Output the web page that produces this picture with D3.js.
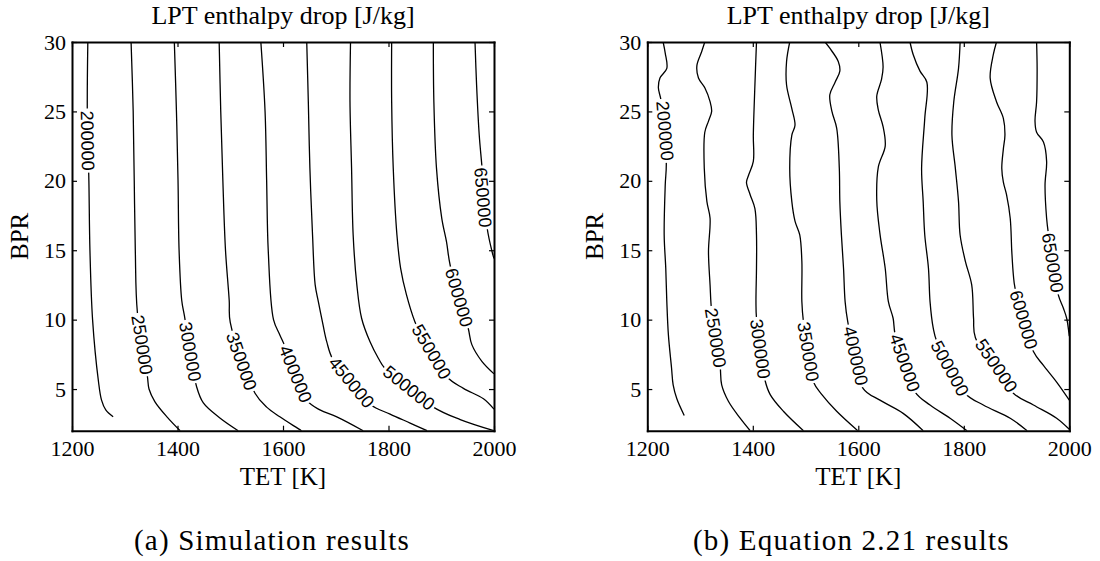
<!DOCTYPE html>
<html>
<head>
<meta charset="utf-8">
<script src="https://cdn.jsdelivr.net/npm/d3@7"></script>
<style>
  body { margin: 0; background: #fff; }
  svg { display: block; }
</style>
</head>
<body>
<svg id="chart" width="1100" height="561"></svg>
<script>
const levels = [200000, 250000, 300000, 350000, 400000, 450000, 500000, 550000, 600000, 650000];
const xTicks = [1200, 1400, 1600, 1800, 2000];
const yTicks = [5, 10, 15, 20, 25, 30];

// (a) simulation contours, points are [TET, BPR]
const sim200 = [[1230,30],[1229,25],[1232,20],[1234,15],[1239,10],[1250,5.6],[1256,4.2],[1264,3.5],[1278,3.0]];
const sim250 = [[1312,30],[1316,25],[1318,20],[1320,15],[1324,10.5],[1343,5.9],[1346,5],[1357,4.1],[1380,3],[1405,2]];
const sim300 = [[1394,30],[1398,25],[1401,20],[1403,15],[1408,11.4],[1413,10.3],[1436,5.2],[1449,4.0],[1481,2.9],[1515,2]];
const sim350 = [[1479,30],[1482,25],[1486,20],[1491,15],[1498,11.4],[1500,9.8],[1547,4.7],[1569,3.7],[1594,3.0],[1635,2]];
const sim400 = [[1558,30],[1566,25],[1569,20],[1572,15],[1582,10],[1594,8.9],[1604,8.05],[1645,4.2],[1670,3.5],[1702,3.0],[1752,2]];
const sim450 = [[1645,30],[1648,25.7],[1651,20.9],[1656,16.1],[1661,12.5],[1667,11.3],[1676,9.6],[1683,8.4],[1695,7.1],[1765,3.9],[1803,3.2],[1841,2.55],[1873,2]];
const sim500 = [[1728,30],[1727,25.7],[1730,20.9],[1733,16.1],[1740,12.5],[1749,10.1],[1765,8.4],[1781,7.2],[1793,6.5],[1885,3.7],[1936,2.8],[2000,2]];
const sim550 = [[1806,30],[1806,25.7],[1809,20.9],[1816,16.1],[1823,13.7],[1834,11.8],[1850,9.85],[1853,9.6],[1910,5.9],[1942,5.05],[1980,4.3],[2000,3.55]];
const sim600 = [[1885,30],[1886,25.7],[1891,20.9],[1901,17.3],[1910,15.6],[1917,13.9],[1951,9.4],[1958,8.2],[1977,7.0],[2000,6.1]];
const sim650 = [[1964,30],[1967,26.9],[1972,23.3],[1977,21.1],[1987,16.6],[1997,14.8],[2000,14.4]];
const simLabels = [[1230,22.9],[1333.5,8.2],[1424.5,7.7],[1522,7.0],[1624,6.1],[1730,5.5],[1839,5.1],[1882,7.7],[1934,11.6],[1979.5,18.8]];

// (b) equation 2.21 contours
const eq200 = [[1230,30],[1234,29.2],[1237,28.1],[1224,27.4],[1221,26.7],[1226,25.8],[1236,21.3],[1234,19.7],[1232,16.1],[1235,13.7],[1237,11.3],[1240,8.9],[1246,6.5],[1249,5.3],[1256,4.3],[1270,3.1]];
const eq250 = [[1309,30],[1303,29.3],[1294,28.3],[1297,27.4],[1309,26.7],[1319,25.7],[1322,25],[1316,24.3],[1309,23.5],[1308,20.9],[1313,18.5],[1319,17.3],[1316,14.9],[1319,12.5],[1322,10.6],[1338,6.7],[1341,5.3],[1354,4.1],[1376,2.9],[1395,2]];
const eq300 = [[1407,30],[1404,26.9],[1401,23.3],[1401,21.4],[1392,20.4],[1388,19.9],[1395,19],[1404,18],[1407,16.1],[1407,13.7],[1406,11.3],[1407,10.1],[1423,5.65],[1433,4.6],[1458,3.4],[1496,2]];
const eq350 = [[1470,30],[1464,28.6],[1464,26.9],[1474,25.2],[1480,24],[1474,23.3],[1470,20.9],[1474,18.5],[1480,17.1],[1489,16.1],[1493,14.2],[1493,11.3],[1496,9.85],[1515,5.5],[1531,4.6],[1559,3.4],[1599,2]];
const eq400 = [[1537,30],[1546,29.55],[1562,28.6],[1565,27.9],[1556,27.1],[1546,26.2],[1550,25],[1559,23.8],[1564,20.9],[1565,18.5],[1568,16.1],[1572,13.7],[1575,11.3],[1580,9.85],[1609,5.05],[1641,4.2],[1685,3.25],[1723,2]];
const eq450 = [[1641,30],[1647,28.2],[1644,27.3],[1635,26.1],[1638,25.1],[1647,23.9],[1651,22.5],[1638,21],[1635,18.6],[1641,16.2],[1651,13.7],[1657,11.3],[1666,10.1],[1670,8.9],[1707.5,4.8],[1736,3.85],[1774,2.9],[1806,2]];
const eq500 = [[1698,30],[1704,29.1],[1717,27.9],[1730,27.1],[1726,24.5],[1720,20.9],[1723,18.5],[1726,16.1],[1733,13.7],[1736,11.3],[1742,9.4],[1749,8.4],[1802,4.7],[1837,3.85],[1888,2.9],[1920,2]];
const eq550 = [[1793,30],[1790,28.1],[1781,25.7],[1777.5,23.3],[1784,20.9],[1790,18.5],[1793,16.1],[1803,14.2],[1815,12.5],[1818.5,10.1],[1822,8.7],[1894,4.7],[1932,3.85],[1976,2.9],[2000,2.1]];
const eq600 = [[1862,30],[1856,29.1],[1850,27.4],[1862,25.7],[1875,24.5],[1878,23.3],[1875,22.3],[1872,20.9],[1875,19.9],[1881,19],[1888,17.3],[1891,14.9],[1894,13.2],[1897,12.3],[1932,7.7],[1951,6.7],[1976,5.5],[2000,4.2]];
const eq650 = [[1938,30],[1939,28.1],[1938,25.7],[1935,24.3],[1938,23.5],[1951,22.8],[1957,21.4],[1954,19.7],[1957,17.3],[1960,16.3],[1979,11.8],[1989,10.8],[1995,10.1],[2000,8.8]];
const eqLabels = [[1234,23.6],[1330,8.7],[1414.5,7.9],[1505.5,7.7],[1595.5,7.4],[1688.5,6.9],[1774,6.5],[1862,6.7],[1914,10],[1969,14.1]];

const titleText = "LPT enthalpy drop [J/kg]";
const xLabel = "TET [K]";
const yLabel = "BPR";

const panels = [
    { lines: [sim200, sim250, sim300, sim350, sim400, sim450, sim500, sim550, sim600, sim650], labels: simLabels, caption: "(a) Simulation results" },
    { lines: [eq200, eq250, eq300, eq350, eq400, eq450, eq500, eq550, eq600, eq650], labels: eqLabels, caption: "(b) Equation 2.21 results" }
];

const panelLeft = [72, 647.3];
const plotW = 422, plotTop = 42, plotBottom = 430.7;
const serif = "'Liberation Serif', 'Times New Roman', serif";

let svg = d3.select("#chart");

function labelAngle(pts, lab, x, y) {
    let ly = y(lab[1]);
    for (let i = 0; i < pts.length - 1; i++) {
        let y0 = y(pts[i][1]), y1 = y(pts[i + 1][1]);
        if ((ly - y0) * (ly - y1) <= 0) {
            let a = Math.atan2(y1 - y0, x(pts[i + 1][0]) - x(pts[i][0])) * 180 / Math.PI;
            if (a > 90) a -= 180;
            if (a < -90) a += 180;
            return a;
        }
    }
    return 90;
}

panels.forEach((p, k) => {
    let left = panelLeft[k];
    let x = d3.scaleLinear().domain([1200, 2000]).range([left, left + plotW]);
    let y = d3.scaleLinear().domain([2, 30]).range([plotBottom, plotTop]);
    let cx = left + plotW / 2;

    svg.append("clipPath").attr("id", "clip" + k)
        .append("rect")
        .attr("x", left).attr("y", plotTop)
        .attr("width", plotW).attr("height", plotBottom - plotTop);

    let line = d3.line()
        .x(d => x(d[0]))
        .y(d => y(d[1]))
        .curve(d3.curveCatmullRom.alpha(0.5));

    svg.append("g")
        .attr("clip-path", `url(#clip${k})`)
        .selectAll("path")
        .data(p.lines)
        .enter()
        .append("path")
        .attr("d", line)
        .attr("fill", "none")
        .attr("stroke", "#000")
        .attr("stroke-width", 1.3);

    let labs = svg.append("g")
        .selectAll("g")
        .data(p.labels)
        .enter()
        .append("g")
        .attr("transform", (d, i) => `translate(${x(d[0])},${y(d[1])}) rotate(${labelAngle(p.lines[i], d, x, y)})`);

    labs.append("rect").attr("fill", "#fff");
    labs.append("text")
        .attr("text-anchor", "middle")
        .attr("dy", "0.36em")
        .attr("font-family", "'Liberation Sans', Arial, sans-serif")
        .attr("font-size", 18)
        .text((d, i) => levels[i]);
    labs.each(function () {
        let w = d3.select(this).select("text").node().getComputedTextLength() + 4;
        d3.select(this).select("rect")
            .attr("x", -w / 2).attr("y", -7)
            .attr("width", w).attr("height", 14);
    });

    let axes = [
        svg.append("g").attr("transform", `translate(0,${plotBottom})`)
            .call(d3.axisBottom(x).tickValues(xTicks).tickFormat(d3.format("d")).tickSizeInner(-5).tickSizeOuter(0).tickPadding(10)),
        svg.append("g").attr("transform", `translate(0,${plotTop})`)
            .call(d3.axisTop(x).tickValues(xTicks).tickSizeInner(-5).tickSizeOuter(0).tickFormat("")),
        svg.append("g").attr("transform", `translate(${left},0)`)
            .call(d3.axisLeft(y).tickValues(yTicks).tickFormat(d3.format("d")).tickSizeInner(-5).tickSizeOuter(0).tickPadding(6)),
        svg.append("g").attr("transform", `translate(${left + plotW},0)`)
            .call(d3.axisRight(y).tickValues(yTicks).tickSizeInner(-5).tickSizeOuter(0).tickFormat(""))
    ];
    axes.forEach(a => {
        a.attr("font-family", serif).attr("font-size", 22);
        a.select(".domain").attr("stroke-width", 2).attr("stroke-linecap", "square");
        a.selectAll(".tick line").attr("stroke-width", 1.2);
        a.selectAll(".tick text").attr("fill", "#000");
    });

    svg.append("text")
        .attr("x", cx).attr("y", 24)
        .attr("text-anchor", "middle")
        .attr("font-family", serif).attr("font-size", 26)
        .text(titleText);

    svg.append("text")
        .attr("x", cx).attr("y", 485)
        .attr("text-anchor", "middle")
        .attr("font-family", serif).attr("font-size", 25)
        .text(xLabel);

    svg.append("text")
        .attr("transform", `translate(${left - 44},${(plotTop + plotBottom) / 2}) rotate(-90)`)
        .attr("text-anchor", "middle")
        .attr("font-family", serif).attr("font-size", 25)
        .text(yLabel);

    svg.append("text")
        .attr("x", cx - (k === 0 ? 11 : 7)).attr("y", 550)
        .attr("text-anchor", "middle")
        .attr("font-family", serif).attr("font-size", 29)
        .attr("letter-spacing", 1.2)
        .text(p.caption);
});
</script>
</body>
</html>
